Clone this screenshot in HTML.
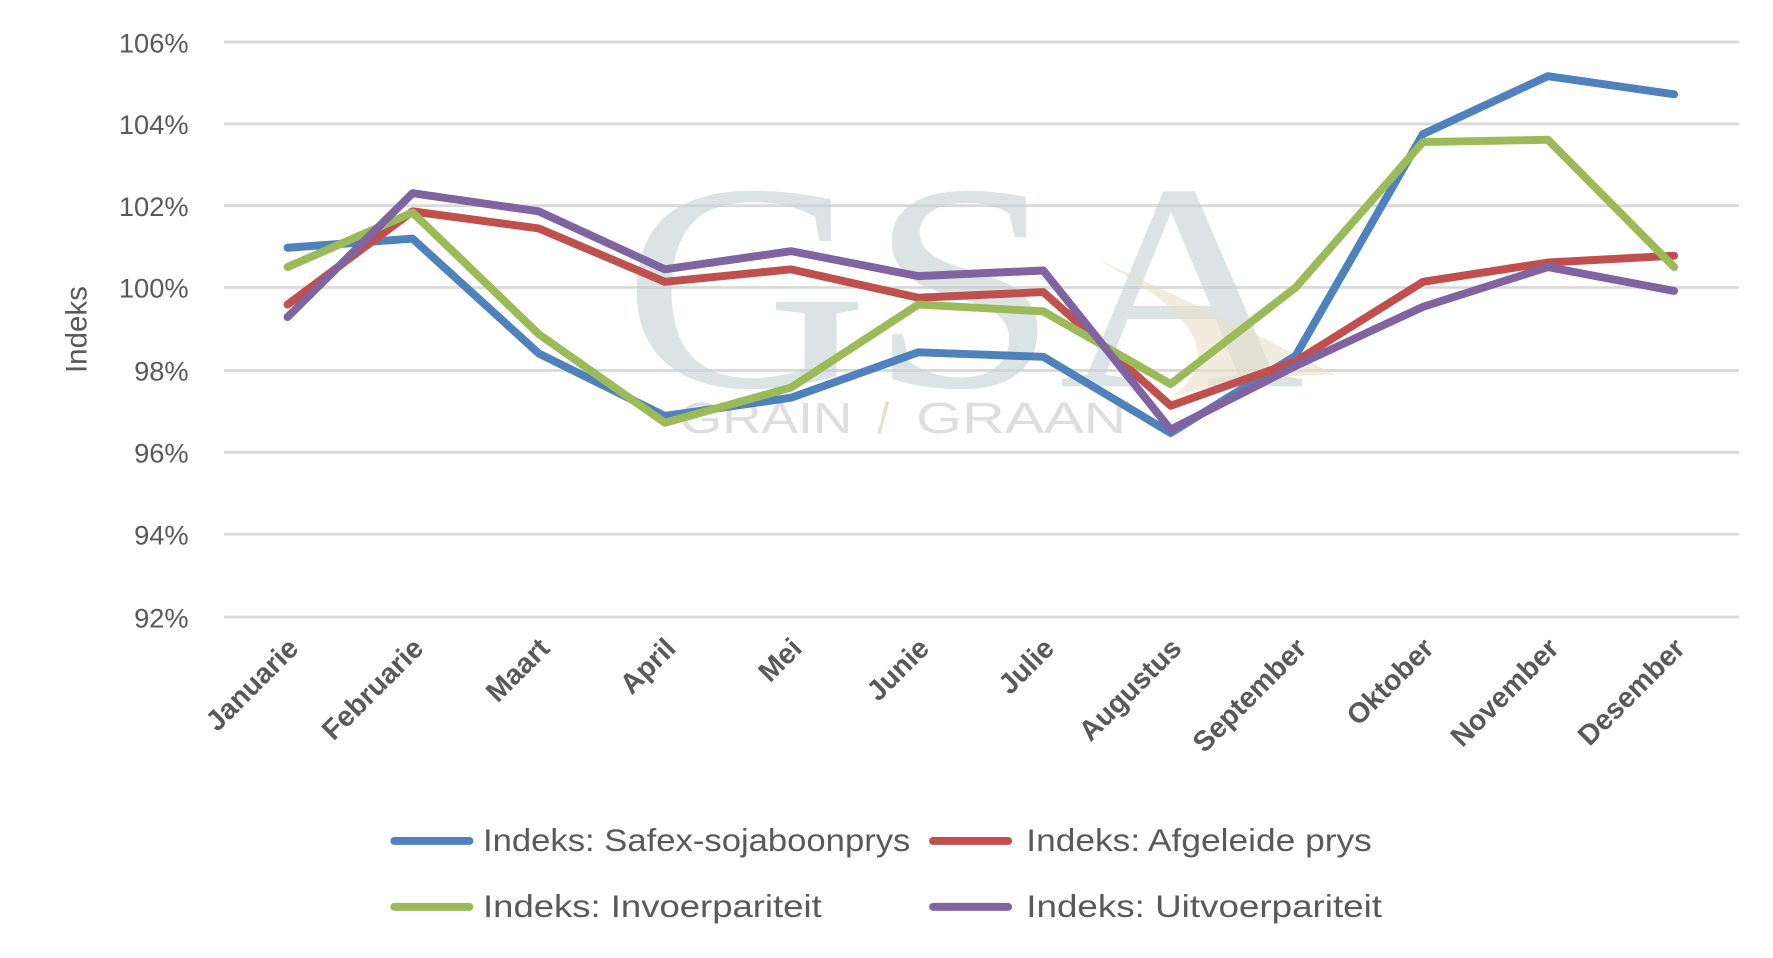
<!DOCTYPE html>
<html><head><meta charset="utf-8"><style>html,body{margin:0;padding:0;background:#fff;}svg{display:block}</style></head>
<body>
<svg width="1773" height="958" viewBox="0 0 1560 843" preserveAspectRatio="none" xmlns="http://www.w3.org/2000/svg" font-family="Liberation Sans, sans-serif">
<rect width="1560" height="843" fill="#fff"/>
<g stroke="#d9d9d9" stroke-width="2.5">
<line x1="197" y1="37" x2="1530" y2="37"/><line x1="197" y1="109" x2="1530" y2="109"/>
<line x1="197" y1="181" x2="1530" y2="181"/><line x1="197" y1="253" x2="1530" y2="253"/>
<line x1="197" y1="326" x2="1530" y2="326"/><line x1="197" y1="398" x2="1530" y2="398"/>
<line x1="197" y1="470" x2="1530" y2="470"/><line x1="197" y1="543" x2="1530" y2="543"/>
</g>
<text x="548" y="340" font-family="Liberation Serif, serif" font-size="260" fill="#c5d2d4" opacity="0.6" textLength="600" lengthAdjust="spacingAndGlyphs">GSA</text>
<path d="M965 228 Q1080 280 1175 330 Q1090 330 1030 350 Q1100 300 965 228Z" fill="#e8dfc8" opacity="0.6"/>
<text x="598" y="381" font-size="38" fill="#dedede" textLength="152" lengthAdjust="spacingAndGlyphs">GRAIN</text>
<text x="772" y="381" font-size="38" fill="#eadfc5">/</text>
<text x="806" y="381" font-size="38" fill="#dedede" textLength="185" lengthAdjust="spacingAndGlyphs">GRAAN</text>
<g font-size="24" fill="#595959" text-anchor="end">
<text x="166" y="46">106%</text><text x="166" y="118">104%</text><text x="166" y="190">102%</text>
<text x="166" y="262">100%</text><text x="166" y="335">98%</text><text x="166" y="407">96%</text>
<text x="166" y="479">94%</text><text x="166" y="552">92%</text>
</g>
<text transform="translate(76,290) rotate(-90)" font-size="26" fill="#595959" text-anchor="middle">Indeks</text>
<g font-size="25" fill="#595959" text-anchor="end" font-weight="bold">
<text transform="translate(264,572) rotate(-45)">Januarie</text>
<text transform="translate(374,572) rotate(-45)">Februarie</text>
<text transform="translate(485,572) rotate(-45)">Maart</text>
<text transform="translate(596,572) rotate(-45)">April</text>
<text transform="translate(707,572) rotate(-45)">Mei</text>
<text transform="translate(819,572) rotate(-45)">Junie</text>
<text transform="translate(929,572) rotate(-45)">Julie</text>
<text transform="translate(1041,572) rotate(-45)">Augustus</text>
<text transform="translate(1151,572) rotate(-45)">September</text>
<text transform="translate(1263,572) rotate(-45)">Oktober</text>
<text transform="translate(1373,572) rotate(-45)">November</text>
<text transform="translate(1484,572) rotate(-45)">Desember</text>
</g>
<g fill="none" stroke-width="7" stroke-linejoin="round" stroke-linecap="round">
<polyline stroke="#4f81bd" points="253,218 363,210 474,311 585,366 696,350 808,310 918,314 1030,381 1140,313 1252,118 1362,67 1473,83"/>
<polyline stroke="#c0504d" points="253,268 363,186 474,201 585,248 696,237 808,262 918,257 1030,357 1140,318 1252,248 1362,231 1473,225"/>
<polyline stroke="#9bbb59" points="253,235 363,187 474,294 585,372 696,341 808,268 918,274 1030,338 1140,253 1252,125 1362,123 1473,235"/>
<polyline stroke="#8064a2" points="253,279 363,170 474,186 585,237 696,221 808,243 918,238 1030,378 1140,322 1252,270 1362,235 1473,256"/>
</g>
<g stroke-width="7" stroke-linecap="round">
<line x1="347" y1="740" x2="413" y2="740" stroke="#4f81bd"/>
<line x1="821" y1="740" x2="887" y2="740" stroke="#c0504d"/>
<line x1="347" y1="798" x2="413" y2="798" stroke="#9bbb59"/>
<line x1="821" y1="798" x2="887" y2="798" stroke="#8064a2"/>
</g>
<g font-size="28" fill="#595959">
<text x="425" y="749" textLength="376" lengthAdjust="spacingAndGlyphs">Indeks: Safex-sojaboonprys</text>
<text x="903" y="749" textLength="304" lengthAdjust="spacingAndGlyphs">Indeks: Afgeleide prys</text>
<text x="425" y="807" textLength="298" lengthAdjust="spacingAndGlyphs">Indeks: Invoerpariteit</text>
<text x="903" y="807" textLength="313" lengthAdjust="spacingAndGlyphs">Indeks: Uitvoerpariteit</text>
</g>
</svg>
</body></html>
